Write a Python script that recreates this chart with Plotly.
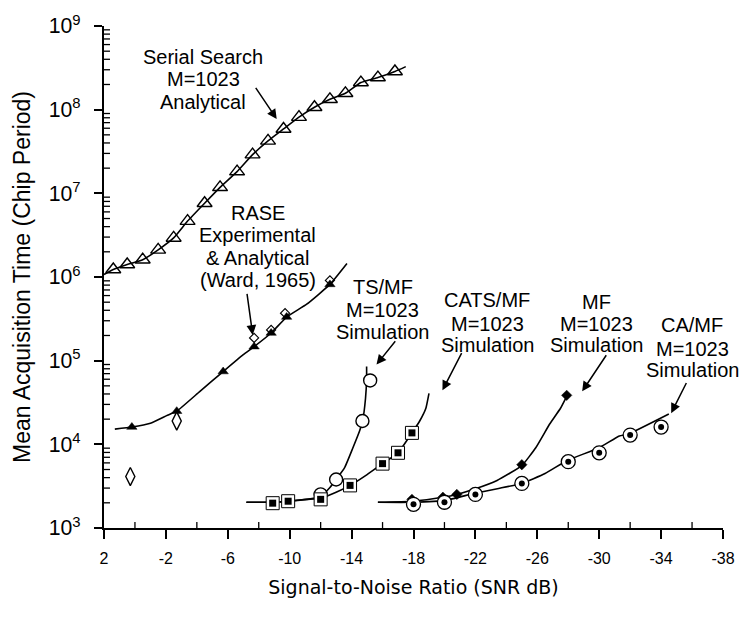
import math
import plotly.graph_objects as go

# ---- Serial search (analytical), M=1023 ----
serial_snr = [1.4, 0.5, -0.5, -1.5, -2.5, -3.4, -4.5, -5.5, -6.6, -7.6, -8.6, -9.6,
              -10.6, -11.6, -12.6, -13.6, -14.6, -15.7, -16.8]
serial_t = [1.23e6, 1.41e6, 1.61e6, 2.11e6, 2.93e6, 4.66e6, 7.62e6, 1.18e7, 1.82e7,
            2.90e7, 4.24e7, 5.88e7, 8.15e7, 1.07e8, 1.33e8, 1.57e8, 2.11e8, 2.42e8, 2.86e8]
serial_curve_snr = [2.0, 1.4, 0.5, -0.5, -1.5, -2.5, -3.4, -4.5, -5.5, -6.6, -7.6, -8.6,
                    -9.6, -10.6, -11.6, -12.6, -13.6, -14.6, -15.7, -16.8, -17.5]
serial_curve_t = [1.07e6, 1.23e6, 1.41e6, 1.61e6, 2.11e6, 2.93e6, 4.66e6, 7.62e6, 1.18e7,
                  1.82e7, 2.90e7, 4.24e7, 5.88e7, 8.15e7, 1.07e8, 1.33e8, 1.57e8, 2.11e8,
                  2.42e8, 2.86e8, 3.27e8]

# ---- RASE (Ward, 1965): analytical curve + experimental points ----
rase_snr = [0.2, -2.7, -5.7, -7.7, -8.8, -9.8, -12.6]
rase_t = [1.61e4, 2.49e4, 7.41e4, 1.47e5, 2.14e5, 3.32e5, 8.15e5]
rase_curve_snr = [1.3, 0.2, -1.0, -2.1, -2.7, -4.2, -5.7, -7.0, -7.7, -8.8, -9.8, -11.1, -12.6, -13.7]
rase_curve_t = [1.52e4, 1.61e4, 1.79e4, 2.23e4, 2.49e4, 4.30e4, 7.41e4, 1.18e5, 1.47e5,
                2.14e5, 3.32e5, 4.73e5, 8.15e5, 1.45e6]
rase_exp_snr = [0.3, -2.7]
rase_exp_t = [4.12e3, 1.90e4]
rase_exp2_snr = [-7.7, -8.8, -9.7, -12.6]
rase_exp2_t = [1.87e5, 2.33e5, 3.70e5, 9.10e5]

# ---- TS/MF simulation ----
ts_snr = [-12.0, -13.0, -14.7, -15.2]
ts_t = [2.52e3, 3.80e3, 1.90e4, 5.80e4]
ts_curve_snr = [-7.2, -8.9, -9.9, -11.1, -12.0, -12.6, -13.0, -13.55, -14.06, -14.52,
                -14.71, -14.90, -14.97, -14.97]
ts_curve_t = [2.03e3, 2.03e3, 2.09e3, 2.20e3, 2.39e3, 3.05e3, 3.80e3, 5.27e3, 8.85e3,
              1.45e4, 1.90e4, 3.55e4, 6.12e4, 8.49e4]

# ---- CATS/MF simulation ----
cats_snr = [-8.9, -9.9, -12.0, -13.9, -16.0, -17.0, -17.9]
cats_t = [1.98e3, 2.09e3, 2.20e3, 3.23e3, 5.88e3, 7.92e3, 1.37e4]
cats_curve_snr = [-7.2, -8.9, -9.9, -11.1, -12.0, -13.0, -13.9, -15.0, -16.0, -17.0,
                  -17.9, -18.4, -18.8, -19.0]
cats_curve_t = [2.03e3, 2.03e3, 2.09e3, 2.20e3, 2.27e3, 2.67e3, 3.23e3, 4.35e3, 5.88e3,
                7.92e3, 1.37e4, 1.90e4, 2.70e4, 4.06e4]

# ---- MF simulation ----
mf_snr = [-17.9, -19.9, -20.8, -25.0, -27.9]
mf_t = [2.20e3, 2.33e3, 2.52e3, 5.71e3, 3.85e4]
mf_curve_snr = [-15.7, -17.9, -19.9, -20.8, -21.9, -23.4, -25.0, -25.9, -26.8, -27.5, -27.9]
mf_curve_t = [2.03e3, 2.09e3, 2.33e3, 2.52e3, 2.90e3, 3.70e3, 5.57e3, 9.10e3, 1.75e4,
              2.70e4, 3.75e4]

# ---- CA/MF simulation ----
camf_snr = [-18, -20, -22, -25, -28, -30, -32, -34]
camf_t = [1.92e3, 2.03e3, 2.52e3, 3.41e3, 6.21e3, 7.92e3, 1.29e4, 1.61e4]
camf_curve_snr = [-15.7, -17.9, -20.1, -21.9, -23.5, -25.0, -26.5, -27.9, -30.0, -31.3, -31.9, -34.5]
camf_curve_t = [2.03e3, 2.03e3, 2.14e3, 2.59e3, 2.97e3, 3.41e3, 4.48e3, 6.38e3, 9.10e3,
                1.26e4, 1.33e4, 2.30e4]

# ---- axis ticks ----
x_tick_vals = [2, -2, -6, -10, -14, -18, -22, -26, -30, -34, -38]
x_tick_text = ["2", "-2", "-6", "-10", "-14", "-18", "-22", "-26", "-30", "-34", "-38"]
x_minor_vals = [0, -4, -8, -12, -16, -20, -24, -28, -32, -36]
y_decades = [3, 4, 5, 6, 7, 8]
y_minor_digits = [2, 3, 4, 5, 6, 7, 8, 9]

X_RANGE = [2, -38]
Y_RANGE = [3, 9]          # log10 of chip periods
PLOT_W, PLOT_H = 620, 507  # plotting area in px

FONT = "Liberation Sans, Arial, Helvetica, sans-serif"
INK = "black"

fig = go.Figure()


def curve(xs, ys):
    fig.add_trace(go.Scatter(x=xs, y=ys, mode="lines", hoverinfo="skip",
                             line=dict(color=INK, width=1.6, shape="spline", smoothing=0.4)))


def points(xs, ys, symbol, size, fill="white", lw=1.5):
    fig.add_trace(go.Scatter(x=xs, y=ys, mode="markers", cliponaxis=False,
                             marker=dict(symbol=symbol, size=size, color=fill,
                                         line=dict(color=INK, width=lw))))


# curves
curve(serial_curve_snr, serial_curve_t)
curve(rase_curve_snr, rase_curve_t)
curve(ts_curve_snr, ts_curve_t)
curve(cats_curve_snr, cats_curve_t)
curve(mf_curve_snr, mf_curve_t)
curve(camf_curve_snr, camf_curve_t)

# minor ticks on the inner side of both axes, drawn as short segments
dx_per_px = (X_RANGE[0] - X_RANGE[1]) / PLOT_W
dlog_per_px = (Y_RANGE[1] - Y_RANGE[0]) / PLOT_H
tick_x, tick_y = [], []
for v in x_minor_vals:
    tick_x += [v, v, None]
    tick_y += [10 ** Y_RANGE[0], 10 ** (Y_RANGE[0] + 6 * dlog_per_px), None]
for d in y_decades:
    for m in y_minor_digits:
        v = m * 10 ** d
        tick_x += [X_RANGE[0], X_RANGE[0] - 6 * dx_per_px, None]
        tick_y += [v, v, None]
fig.add_trace(go.Scatter(x=tick_x, y=tick_y, mode="lines", hoverinfo="skip",
                         cliponaxis=False, line=dict(color=INK, width=1.3)))

# markers
points(serial_snr, serial_t, "triangle-up-open", 13, fill=INK, lw=1.4)
points(rase_snr, rase_t, "triangle-up", 9, fill=INK, lw=0.5)
points(rase_exp_snr, rase_exp_t, "diamond-tall", 13, fill="white", lw=1.4)
points(rase_exp2_snr, rase_exp2_t, "diamond-open", 7, fill=INK, lw=1.2)
points(ts_snr, ts_t, "circle", 13, fill="white", lw=1.4)
points(cats_snr, cats_t, "square", 13, fill="white", lw=1.0)
points(cats_snr, cats_t, "square", 7, fill=INK, lw=0)
points(mf_snr, mf_t, "diamond", 8, fill=INK, lw=0.5)
points(camf_snr, camf_t, "circle", 14, fill="white", lw=1.3)
points(camf_snr, camf_t, "circle", 6, fill=INK, lw=0)

# series labels, one annotation per text line: (snr, log10 t, text)
label_lines = [
    (-4.4, 8.633, "Serial Search"), (-4.4, 8.361, "M=1023"), (-4.4, 8.089, "Analytical"),
    (-7.95, 6.763, "RASE"), (-7.95, 6.503, "Experimental"),
    (-7.95, 6.231, "& Analytical"), (-7.95, 5.970, "(Ward, 1965)"),
    (-16.0, 5.876, "TS/MF"), (-16.0, 5.604, "M=1023"), (-16.0, 5.343, "Simulation"),
    (-22.75, 5.722, "CATS/MF"), (-22.75, 5.438, "M=1023"), (-22.75, 5.189, "Simulation"),
    (-29.8, 5.698, "MF"), (-29.8, 5.438, "M=1023"), (-29.8, 5.189, "Simulation"),
    (-36.0, 5.426, "CA/MF"), (-36.0, 5.142, "M=1023"), (-36.0, 4.893, "Simulation"),
]
annotations = []
for sx, ly, txt in label_lines:
    annotations.append(dict(x=sx, y=ly, xref="x", yref="y", text=txt, showarrow=False,
                            xanchor="center", yanchor="middle",
                            font=dict(family=FONT, size=20, color=INK)))

# pointer arrows: (tail snr, tail log10 t, head snr, head log10 t)
arrows = [
    (-7.74, 8.278, -9.16, 7.888),
    (-7.23, 5.817, -7.61, 5.308),
    (-16.9, 5.249, -15.61, 4.953),
    (-21.16, 5.107, -19.87, 4.645),
    (-30.52, 5.083, -28.9, 4.633),
    (-35.68, 4.751, -34.65, 4.373),
]
for tx, ty, hx, hy in arrows:
    annotations.append(dict(x=hx, y=hy, ax=tx, ay=ty, xref="x", yref="y",
                            axref="x", ayref="y", text="", showarrow=True,
                            arrowhead=2, arrowsize=1.3, arrowwidth=1.5, arrowcolor=INK))

fig.update_layout(
    width=747, height=634,
    margin=dict(l=104, r=23, t=21, b=106),
    paper_bgcolor="white", plot_bgcolor="white",
    showlegend=False,
    annotations=annotations,
    xaxis=dict(
        range=X_RANGE, tickmode="array", tickvals=x_tick_vals, ticktext=x_tick_text,
        ticks="outside", ticklen=9, tickwidth=1.5, tickcolor=INK,
        showline=True, linewidth=2, linecolor=INK, mirror=False,
        showgrid=False, zeroline=False, ticklabelstandoff=6,
        tickfont=dict(family=FONT, size=16, color=INK),
        title=dict(text="Signal-to-Noise Ratio (SNR dB)", standoff=14,
                   font=dict(family="DejaVu Sans, Verdana, sans-serif", size=19, color=INK)),
    ),
    yaxis=dict(
        type="log", range=Y_RANGE, tickmode="linear", tick0=0, dtick=1,
        exponentformat="power", showexponent="all",
        ticks="outside", ticklen=8, tickwidth=1.5, tickcolor=INK,
        showline=True, linewidth=2, linecolor=INK, mirror=False,
        showgrid=False, zeroline=False, ticklabelstandoff=10,
        tickfont=dict(family=FONT, size=17, color=INK),
        title=dict(text="Mean Acquisition Time (Chip Period)", standoff=12,
                   font=dict(family=FONT, size=23, color=INK)),
    ),
)

fig.write_html("out.html")
